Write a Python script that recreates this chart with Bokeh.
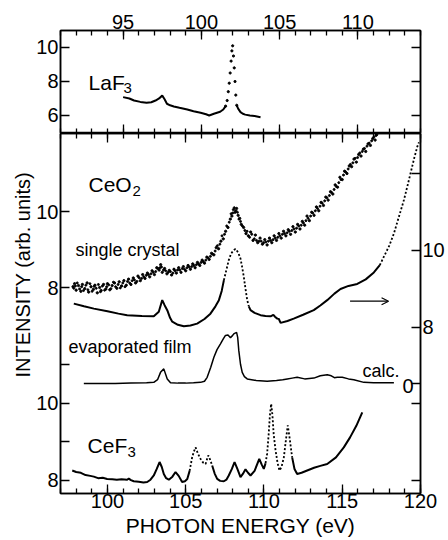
import math
from bokeh.plotting import figure
from bokeh.models import (Range1d, LinearAxis, FixedTicker, Label, Arrow, OpenHead, Title,
                          CustomLabelingPolicy)
from bokeh.layouts import column
from bokeh.embed import file_html
from bokeh.resources import INLINE

FONT = "Liberation Sans"

# ---------------- data ----------------
# LaF3 (top energy scale)
laf_x = [95.0, 95.4, 95.7, 96.1, 96.5, 96.8, 97.07, 97.3, 97.5, 97.65, 97.8, 98.0, 98.24, 98.6, 99.1,
         99.5, 99.95, 100.3, 100.5, 100.8, 101.0, 101.2, 101.4, 101.55, 101.65, 101.72, 101.78, 101.84,
         101.9, 101.95, 102.0, 102.05, 102.1, 102.15, 102.2, 102.26, 102.35, 102.5, 102.65, 102.8,
         103.1, 103.4, 103.78]
laf_y = [7.08, 7.0, 6.88, 6.8, 6.75, 6.78, 6.88, 7.0, 7.18, 6.95, 6.69, 6.6, 6.53, 6.45, 6.35,
         6.25, 6.16, 6.07, 6.0, 6.1, 6.16, 6.22, 6.35, 6.55, 6.88, 7.4, 7.9, 8.5,
         9.2, 9.8, 10.1, 9.5, 8.8, 8.0, 7.2, 6.6, 6.4, 6.2, 6.1, 6.05,
         6.0, 5.97, 5.9]

# CeO2 single crystal (left scale), two interleaved sweeps of scattered points
sc_x = [97.8, 97.9, 98.0, 98.15, 98.3, 98.4, 98.55, 98.7, 98.8, 98.95, 99.1, 99.2, 99.35, 99.5, 99.6,
        99.75, 99.9, 100.0, 100.15, 100.3, 100.45, 100.6, 100.75, 100.9, 101.05, 101.2, 101.35, 101.5,
        101.65, 101.8, 101.95, 102.1, 102.25, 102.4, 102.55, 102.7, 102.85, 103.0, 103.15, 103.3,
        103.4, 103.5, 103.65, 103.8, 103.95, 104.1, 104.25, 104.4, 104.55, 104.7, 104.85, 105.0,
        105.15, 105.3, 105.45, 105.6, 105.75, 105.9, 106.05, 106.2, 106.35, 106.5, 106.65, 106.8,
        106.95, 107.1, 107.25, 107.4, 107.55, 107.7, 107.85, 107.95, 108.05, 108.15, 108.25, 108.35,
        108.45, 108.55, 108.7, 108.85, 109.0, 109.15, 109.3, 109.45, 109.6, 109.75, 109.9, 110.05,
        110.2, 110.35, 110.5, 110.65, 110.8, 110.95, 111.1, 111.25, 111.4, 111.55, 111.7, 111.85,
        112.0, 112.15, 112.3, 112.45, 112.6, 112.75, 112.9, 113.05, 113.2, 113.35, 113.5, 113.65,
        113.8, 113.95, 114.1, 114.25, 114.4, 114.55, 114.7, 114.85, 115.0, 115.15, 115.3, 115.45,
        115.6, 115.75, 115.9, 116.05, 116.2, 116.35, 116.5, 116.65, 116.8, 116.95, 117.1, 117.2]
sc_y = [8.02, 8.10, 7.93, 8.05, 7.90, 8.08, 7.97, 8.12, 7.88, 8.02, 7.95, 8.06, 7.86, 8.00, 7.92,
        8.08, 7.96, 8.10, 7.94, 8.05, 8.12, 7.98, 8.15, 8.04, 8.18, 8.06, 8.22, 8.08,
        8.25, 8.12, 8.30, 8.18, 8.34, 8.24, 8.38, 8.28, 8.44, 8.34, 8.52, 8.46,
        8.60, 8.40, 8.50, 8.36, 8.45, 8.33, 8.48, 8.38, 8.52, 8.40, 8.55, 8.44,
        8.58, 8.48, 8.62, 8.52, 8.66, 8.58, 8.72, 8.64, 8.80, 8.74, 8.90, 8.86,
        9.05, 9.02, 9.22, 9.28, 9.48, 9.58, 9.80, 9.88, 10.05, 9.98, 10.08, 9.90,
        9.82, 9.66, 9.58, 9.42, 9.36, 9.46, 9.24, 9.38, 9.18, 9.30, 9.14, 9.26,
        9.12, 9.30, 9.18, 9.36, 9.24, 9.42, 9.30, 9.48, 9.36, 9.52, 9.40, 9.60,
        9.46, 9.66, 9.54, 9.74, 9.64, 9.88, 9.76, 9.98, 9.90, 10.12, 10.02, 10.24,
        10.16, 10.38, 10.30, 10.52, 10.46, 10.70, 10.64, 10.90, 10.84, 11.06, 11.00, 11.20,
        11.18, 11.38, 11.30, 11.50, 11.46, 11.64, 11.58, 11.78, 11.74, 11.92, 11.88, 12.02]
sc2_pts = [
    (97.85, 7.98), (97.95, 8.04), (98.07, 8.12), (98.22, 7.96), (98.35, 8.02), (98.47, 7.92),
    (98.62, 8.06), (98.75, 7.94), (98.88, 8.10), (99.02, 7.90), (99.15, 8.03), (99.28, 7.98),
    (99.42, 8.08), (99.55, 7.89), (99.68, 8.04), (99.82, 7.93), (99.95, 8.02), (100.08, 8.07),
    (100.22, 7.97), (100.38, 8.14), (100.52, 8.02), (100.68, 8.08), (100.82, 7.99), (100.98, 8.12),
    (101.12, 8.02), (101.28, 8.16), (101.42, 8.12), (101.58, 8.18), (101.72, 8.20), (101.88, 8.16),
    (102.02, 8.26), (102.18, 8.24), (102.32, 8.28), (102.48, 8.32), (102.62, 8.34), (102.78, 8.36),
    (102.92, 8.40), (103.08, 8.42), (103.22, 8.50), (103.35, 8.52), (103.45, 8.54), (103.58, 8.46),
    (103.72, 8.44), (103.88, 8.40), (104.02, 8.42), (104.18, 8.38), (104.32, 8.44), (104.48, 8.46),
    (104.62, 8.46), (104.78, 8.50), (104.92, 8.48), (105.08, 8.52), (105.22, 8.54), (105.38, 8.55),
    (105.52, 8.58), (105.68, 8.60), (105.82, 8.62), (105.98, 8.66), (106.12, 8.68), (106.28, 8.72),
    (106.42, 8.78), (106.58, 8.82), (106.72, 8.88), (106.88, 8.96), (107.02, 9.10), (107.18, 9.14),
    (107.32, 9.36), (107.48, 9.40), (107.62, 9.62), (107.78, 9.72), (107.90, 9.94), (108.00, 9.96),
    (108.10, 10.10), (108.20, 10.02), (108.30, 9.98), (108.40, 9.80), (108.50, 9.74), (108.62, 9.62),
    (108.78, 9.50), (108.92, 9.48), (109.08, 9.32), (109.22, 9.40), (109.38, 9.28), (109.52, 9.24),
    (109.68, 9.22), (109.82, 9.22), (109.98, 9.18), (110.12, 9.20), (110.28, 9.22), (110.42, 9.24),
    (110.58, 9.26), (110.72, 9.30), (110.88, 9.32), (111.02, 9.36), (111.18, 9.40), (111.32, 9.42),
    (111.48, 9.44), (111.62, 9.48), (111.78, 9.50), (111.92, 9.54), (112.08, 9.56), (112.22, 9.62),
    (112.38, 9.64), (112.52, 9.70), (112.68, 9.76), (112.82, 9.82), (112.98, 9.88), (113.12, 9.96),
    (113.28, 10.02), (113.42, 10.08), (113.58, 10.14), (113.72, 10.22), (113.88, 10.28), (114.02, 10.36),
    (114.18, 10.42), (114.32, 10.50), (114.48, 10.58), (114.62, 10.66), (114.78, 10.76), (114.92, 10.84),
    (115.08, 10.96), (115.22, 11.04), (115.38, 11.12), (115.52, 11.24), (115.68, 11.28), (115.82, 11.40),
    (115.98, 11.42), (116.12, 11.54), (116.28, 11.58), (116.42, 11.66), (116.58, 11.72), (116.72, 11.80),
    (116.88, 11.86), (117.02, 11.96), (117.15, 12.00)]

# CeO2 evaporated film (right scale)
film_x = [97.85, 98.5, 99.13, 100.0, 100.7, 101.26, 102.2, 102.96, 103.28, 103.5, 103.65, 103.82, 104.0,
          104.14, 104.5, 104.88, 105.3, 105.73, 106.2, 106.58, 106.9, 107.12, 107.3, 107.44, 107.6,
          107.75, 107.9, 108.07, 108.18, 108.35, 108.5, 108.6, 108.71, 108.82, 108.93, 109.03, 109.14,
          109.4, 109.78, 110.1, 110.42, 110.6, 110.7, 110.85, 110.95, 111.06, 111.5, 111.9, 112.5,
          113.18, 113.6, 114.04, 114.5, 114.89, 115.4, 115.96, 116.5, 117.02, 117.4, 117.66, 118.0,
          118.3, 118.6, 118.94, 119.15, 119.36, 119.6, 119.79, 119.9]
film_y = [8.62, 8.55, 8.49, 8.42, 8.36, 8.32, 8.3, 8.29, 8.41, 8.71, 8.58, 8.45, 8.25,
          8.15, 8.07, 8.03, 8.05, 8.1, 8.22, 8.36, 8.55, 8.71, 8.95, 9.23, 9.5,
          9.75, 9.92, 10.01, 10.04, 9.95, 9.79, 9.58, 9.32, 9.0, 8.71, 8.55, 8.45,
          8.38, 8.32, 8.3, 8.29, 8.33, 8.28, 8.23, 8.22, 8.12, 8.17, 8.23, 8.33,
          8.45, 8.57, 8.71, 8.88, 9.0, 9.08, 9.13, 9.25, 9.43, 9.62, 9.84, 10.12,
          10.44, 10.85, 11.31, 11.65, 12.0, 12.4, 12.69, 12.81]

# calculated spectrum (baseline 0)
calc_x = [98.49, 99.5, 100.5, 101.5, 102.5, 102.96, 103.2, 103.39, 103.6, 103.82, 104.03, 104.5, 105.0,
          105.5, 105.95, 106.2, 106.37, 106.6, 106.8, 107.0, 107.22, 107.4, 107.54, 107.7, 107.86,
          108.0, 108.07, 108.25, 108.32, 108.39, 108.5, 108.61, 108.75, 108.93, 109.5, 110.2, 110.8,
          111.2, 111.49, 111.8, 112.12, 112.6, 113.19, 113.6, 114.04, 114.3, 114.5, 114.68, 115.0,
          115.4, 115.74, 116.38, 117.0, 117.7, 118.3]
calc_y = [0.0, 0.0, 0.0, 0.01, 0.02, 0.03, 0.1, 0.29, 0.38, 0.12, 0.02, 0.01, 0.01,
          0.02, 0.03, 0.06, 0.16, 0.42, 0.68, 0.88, 1.03, 1.16, 1.25, 1.26, 1.19,
          1.25, 1.29, 1.33, 1.2, 0.86, 0.5, 0.29, 0.18, 0.12, 0.08, 0.06, 0.08,
          0.1, 0.12, 0.14, 0.16, 0.12, 0.14, 0.2, 0.23, 0.2, 0.15, 0.16, 0.16,
          0.12, 0.1, 0.03, 0.02, 0.02, 0.02]

# CeF3 (left scale, lower)
cef_x = [97.75, 98.0, 98.3, 98.6, 98.9, 99.13, 99.4, 99.7, 99.98, 100.3, 100.6, 100.9, 101.26, 101.36,
         101.5, 101.68, 102.0, 102.3, 102.54, 102.75, 102.96, 103.15, 103.33, 103.47, 103.6, 103.75,
         103.92, 104.15, 104.35, 104.55, 104.77, 104.95, 105.1, 105.25, 105.41, 105.52, 105.63, 105.78,
         105.95, 106.1, 106.27, 106.36, 106.44, 106.55, 106.69, 106.85, 107.01, 107.2, 107.44, 107.6,
         107.75, 107.95, 108.12, 108.3, 108.5, 108.65, 108.82, 108.98, 109.14, 109.4, 109.7, 109.85,
         109.99, 110.1, 110.2, 110.3, 110.38, 110.46, 110.54, 110.62, 110.74, 110.87, 110.99, 111.12,
         111.27, 111.4, 111.52, 111.64, 111.8, 111.95, 112.12, 112.4, 112.76, 113.2, 113.6, 114.04,
         114.6, 115.1, 115.5, 115.9, 116.28]
cef_y = [8.26, 8.22, 8.2, 8.14, 8.12, 8.1, 8.06, 8.07, 8.04, 8.03, 8.02, 8.03, 8.02, 8.05,
         8.01, 7.98, 7.97, 7.95, 7.96, 8.02, 8.13, 8.3, 8.48, 8.35, 8.17, 8.06,
         8.02, 8.1, 8.22, 8.12, 7.96, 7.98, 8.04, 8.25, 8.6, 8.75, 8.86, 8.7,
         8.56, 8.47, 8.43, 8.55, 8.65, 8.55, 8.39, 8.18, 8.04, 7.99, 7.98, 8.02,
         8.13, 8.3, 8.48, 8.3, 8.09, 8.17, 8.29, 8.2, 8.13, 8.25, 8.56, 8.42,
         8.3, 8.45, 8.69, 9.2, 9.7, 9.99, 9.7, 9.2, 8.78, 8.45, 8.26, 8.35,
         8.6, 9.05, 9.43, 9.1, 8.6, 8.3, 8.17, 8.2, 8.26, 8.33, 8.38, 8.43,
         8.6, 8.86, 9.12, 9.42, 9.77]

top_ticks = [95, 100, 105, 110]
bottom_ticks = [100, 105, 110, 115, 120]
laf_yticks = [6, 8, 10]
ceo_yticks = [8, 10]
cef_yticks = [8, 9, 10, 11]
cef_ylabels = ["8", "", "10", ""]
film_yticks = [8, 10, 12]
film_ylabels = ["8", "10", ""]

# -------------- helpers --------------
def drop_policy(idx):
    return CustomLabelingPolicy(args=dict(drop=idx),
                                code="for (const i of drop) { indices.unset(i) }\nreturn indices")


def style_axis(ax, labels=True, size="20px", n=0):
    ax.major_tick_in = 9
    ax.major_tick_out = 0
    ax.minor_tick_in = 5
    ax.minor_tick_out = 0
    ax.axis_line_color = "black"
    ax.axis_line_width = 1.5
    ax.major_tick_line_width = 1.3
    ax.minor_tick_line_width = 1.3
    ax.major_label_text_font = FONT
    ax.major_label_text_color = "black"
    if labels:
        ax.major_label_text_font_size = size
        ax.major_label_standoff = 2
    else:
        ax.major_label_text_font_size = "0px"
        ax.major_label_standoff = 0
        ax.major_label_policy = drop_policy(list(range(n)))


def segments(xs, ys, dotted):
    """split a series into runs that are drawn solid or dotted"""
    runs = []
    cur_x, cur_y, cur_d = [xs[0]], [ys[0]], None
    for i in range(1, len(xs)):
        mid = 0.5 * (xs[i - 1] + xs[i])
        d = any(lo <= mid <= hi for lo, hi in dotted)
        if cur_d is None or d == cur_d:
            cur_x.append(xs[i]); cur_y.append(ys[i]); cur_d = d
        else:
            runs.append((cur_x, cur_y, cur_d))
            cur_x, cur_y, cur_d = [xs[i - 1], xs[i]], [ys[i - 1], ys[i]], d
    runs.append((cur_x, cur_y, cur_d))
    return runs


def base_fig(**kw):
    f = figure(output_backend="svg", toolbar_location=None,
               x_axis_location=None, y_axis_location=None, **kw)
    f.outline_line_color = "black"
    f.outline_line_width = 1.5
    f.background_fill_color = "white"
    f.border_fill_color = "white"
    f.grid.visible = False
    return f


W = 448
# ================= top panel (LaF3) =================
top = base_fig(width=W, height=133, x_range=Range1d(91, 114), y_range=Range1d(4.94, 11.0),
               min_border_left=60, min_border_right=28, min_border_top=30, min_border_bottom=0)

ax = LinearAxis(ticker=FixedTicker(ticks=top_ticks, minor_ticks=list(range(91, 115))))
style_axis(ax)
top.add_layout(ax, "above")
ax = LinearAxis(ticker=FixedTicker(ticks=top_ticks, minor_ticks=list(range(91, 115))))
style_axis(ax, labels=False, n=len(top_ticks))
top.add_layout(ax, "below")
ax = LinearAxis(ticker=FixedTicker(ticks=laf_yticks, minor_ticks=[]))
style_axis(ax)
top.add_layout(ax, "left")
ax = LinearAxis(ticker=FixedTicker(ticks=laf_yticks, minor_ticks=[]))
style_axis(ax, labels=False, n=len(laf_yticks))
top.add_layout(ax, "right")

for xs, ys, d in segments(laf_x, laf_y, [(101.6, 102.27)]):
    if d:
        top.scatter(xs, ys, size=2.2, color="black", marker="circle")
    else:
        top.line(xs, ys, line_color="black", line_width=2)

top.add_layout(Label(x=92.79, y=7.94, text="LaF", text_font=FONT, text_font_size="21px",
                     text_color="black", text_baseline="alphabetic"))
top.add_layout(Label(x=95.03, y=7.62, text="3", text_font=FONT, text_font_size="15px",
                     text_color="black", text_baseline="alphabetic"))

# ================= bottom panel =================
Y0, Y1 = 2.579, 12.053          # CeO2 (left) scale
bot = base_fig(width=W, height=407, x_range=Range1d(97, 120), y_range=Range1d(Y0, Y1),
               min_border_left=60, min_border_right=28, min_border_top=0, min_border_bottom=47)
bot.extra_y_ranges = {
    "cef": Range1d(7.662, 17.013),
    "film": Range1d(3.688, 13.039),
    "calc": Range1d(-2.857, 6.494),
}


def to_main(v, name):
    r = bot.extra_y_ranges[name]
    return round(Y0 + (v - r.start) / (r.end - r.start) * (Y1 - Y0), 4)


ax = LinearAxis(ticker=FixedTicker(ticks=bottom_ticks, minor_ticks=list(range(97, 121))),
                axis_label="PHOTON ENERGY (eV)")
style_axis(ax)
ax.major_label_standoff = 0
ax.axis_label_text_font = FONT
ax.axis_label_text_font_size = "21px"
ax.axis_label_text_font_style = "normal"
ax.axis_label_text_color = "black"
ax.axis_label_standoff = 3
bot.add_layout(ax, "below")
ax = LinearAxis(ticker=FixedTicker(ticks=bottom_ticks, minor_ticks=list(range(97, 121))))
style_axis(ax, labels=False, n=len(bottom_ticks))
bot.add_layout(ax, "above")

# left axis: CeO2 ticks + CeF3 ticks
left = []
for t in ceo_yticks:
    left.append((float(t), str(t)))
for t, s in zip(cef_yticks, cef_ylabels):
    left.append((to_main(t, "cef"), s))
left.sort()
ax = LinearAxis(ticker=FixedTicker(ticks=[p_ for p_, _ in left], minor_ticks=[]),
                major_label_overrides={p_: s for p_, s in left})
style_axis(ax)
ax.major_label_policy = drop_policy([i for i, (_, s) in enumerate(left) if s == ""])
bot.add_layout(ax, "left")

ytitle = Title(text="INTENSITY (arb. units)", align="left", offset=116, standoff=0,
               text_font=FONT, text_font_size="20px", text_font_style="normal",
               text_color="black")
bot.add_layout(ytitle, "left")

# right axis: film ticks, calc zero, CeF3 ticks
right = []
for t, s in zip(film_yticks, film_ylabels):
    right.append((to_main(t, "film"), s))
right.append((to_main(0, "calc"), ""))
for t in [8, 10]:
    right.append((to_main(t, "cef"), ""))
right.sort()
ax = LinearAxis(ticker=FixedTicker(ticks=[p_ for p_, _ in right], minor_ticks=[]),
                major_label_overrides={p_: s for p_, s in right})
style_axis(ax)
ax.major_label_policy = drop_policy([i for i, (_, s) in enumerate(right) if s == ""])
bot.add_layout(ax, "right")

# single crystal
bot.scatter(sc_x, sc_y, size=2.3, color="black", marker="circle")
bot.scatter([p_[0] for p_ in sc2_pts], [p_[1] for p_ in sc2_pts], size=2.0, color="black",
            marker="circle")
# evaporated film
for xs, ys, d in segments(film_x, film_y, [(107.4, 109.05), (117.5, 120)]):
    bot.line(xs, ys, y_range_name="film", line_color="black",
             line_width=2 if not d else 1.8, line_dash="solid" if not d else "2 2")
# calc
bot.line(calc_x, calc_y, y_range_name="calc", line_color="black", line_width=1.5)
# CeF3
for xs, ys, d in segments(cef_x, cef_y, [(105.2, 106.75), (110.1, 111.85)]):
    bot.line(xs, ys, y_range_name="cef", line_color="black",
             line_width=2 if not d else 1.8, line_dash="solid" if not d else "2 2")


def lab(x, y, text, size, **kw):
    bot.add_layout(Label(x=x, y=y, text=text, text_font=FONT, text_font_size=size,
                         text_color="black",
                         text_baseline=kw.pop("baseline", "alphabetic"), **kw))


lab(98.79, 10.70, "CeO", "21px")
lab(101.6, 10.54, "2", "15px")
lab(97.96, 8.974, "single crystal", "18px")
lab(97.51, 6.447, "evaporated film", "18px")
lab(116.3, 5.80, "calc.", "18px")
lab(118.85, 5.421, "0", "20px", baseline="middle")
lab(98.73, 3.842, "CeF", "21px")
lab(101.28, 3.658, "3", "15px")

bot.add_layout(Arrow(end=OpenHead(size=7, line_width=1.2, line_color="black"),
                     x_start=115.5, y_start=7.64, x_end=117.96, y_end=7.64,
                     line_width=1.2, line_color="black"))

layout = column(top, bot, spacing=0)
open("out.html", "w").write(file_html(layout, INLINE))
